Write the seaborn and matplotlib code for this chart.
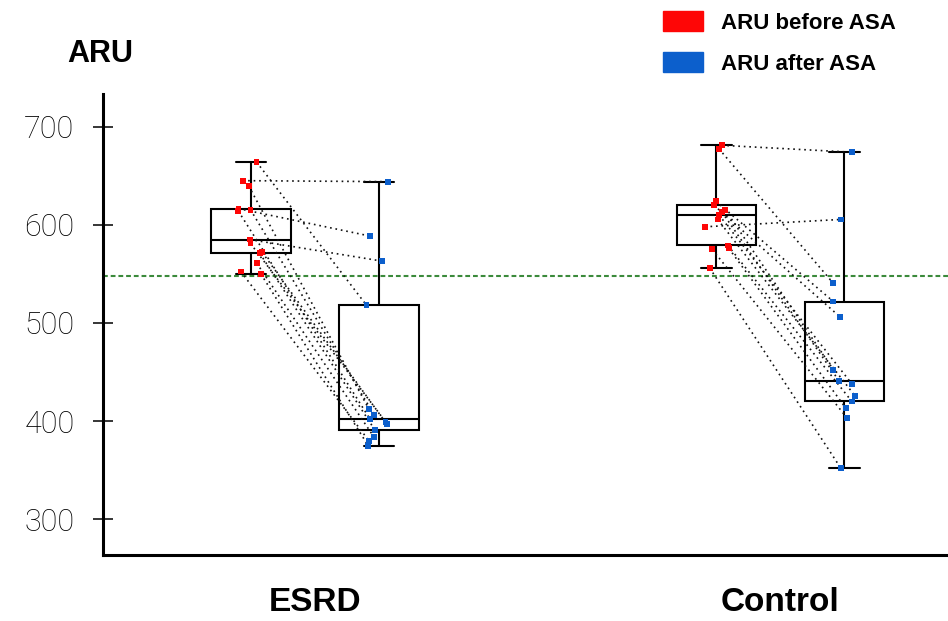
import numpy as np
import pandas as pd
import seaborn as sns
import matplotlib.pyplot as plt
from matplotlib.patches import Patch

# values (paired: before[i] -> after[i])
groups = ["ESRD", "Control"]
states = ["ARU before ASA", "ARU after ASA"]
esrd_before = [645, 616.5, 585, 664, 639.5, 615.5, 614, 581, 572, 571, 561, 552.5, 550]
esrd_after = [644, 588.5, 563, 518, 412, 406.5, 402, 399.5, 396.7, 391, 383.5, 380, 375]
control_before = [681, 677.5, 598, 624, 620, 615.3, 613, 610, 605.5, 579, 576, 575, 556]
control_after = [674, 540.5, 605.5, 521.8, 506.4, 452.4, 441, 438, 426, 420, 413, 402.8, 352]
threshold = 548
yticks = [300, 400, 500, 600, 700]

red = "#fe0606"
blue = "#0c5fcc"
dot_colors = {states[0]: red, states[1]: blue}
box_colors = {states[0]: "white", states[1]: "white"}

# long table; box position = group index +/- dodge offset
offset = 0.55 / 4
rows = []
for gi, (bef, aft) in enumerate([(esrd_before, esrd_after), (control_before, control_after)]):
    for b, a in zip(bef, aft):
        rows.append((groups[gi], states[0], gi - offset, b))
        rows.append((groups[gi], states[1], gi + offset, a))
df = pd.DataFrame(rows, columns=["group", "state", "pos", "aru"])
box_pos = np.array(sorted(df["pos"].unique()))

sns.set_theme(style="ticks")
plt.rcParams["font.family"] = ["Liberation Sans", "DejaVu Sans"]
plt.rcParams["text.color"] = "black"
plt.rcParams["xtick.color"] = "black"
plt.rcParams["ytick.color"] = "black"

fig = plt.figure(figsize=(9.48, 6.21), dpi=100)
ax = fig.add_axes([103 / 948, 66 / 621, 845 / 948, 461 / 621])

ax.axhline(threshold, color="#3b8a3b", lw=1.5, ls=(0, (2.3, 1.4)), zorder=1)

sns.boxplot(data=df, x="pos", y="aru", hue="state", hue_order=states, palette=box_colors,
            native_scale=True, orient="x", width=0.62, whis=(0, 100), linecolor="black",
            linewidth=1.5, legend=False, capwidths=0.065, zorder=2, ax=ax)

np.random.seed(11)
n0 = len(ax.collections)
sns.stripplot(data=df, x="pos", y="aru", hue="state", hue_order=states, palette=dot_colors,
              native_scale=True, orient="x", jitter=0.1, marker="s", size=4.2, linewidth=0,
              legend=False, zorder=4, ax=ax)

# find where the strip plot put each point, then join the pairs
xy = {}
for coll in ax.collections[n0:]:
    for x, y in coll.get_offsets():
        k = int(np.argmin(np.abs(box_pos - x)))
        xy[(k, round(float(y), 2))] = float(x)

for gi, (bef, aft) in enumerate([(esrd_before, esrd_after), (control_before, control_after)]):
    for b, a in zip(bef, aft):
        xb = xy[(2 * gi, round(b, 2))]
        xa = xy[(2 * gi + 1, round(a, 2))]
        ax.plot([xb, xa], [b, a], ls=(0, (1, 2.3)), color="#111111", lw=1.2, zorder=3)

ax.set_xlim(-0.455, 1.36)
ax.set_ylim(263.6, 733.3)
ax.set_xticks([0, 1], groups)
ax.set_yticks(yticks)
ax.set_xlabel("")
ax.set_ylabel("")
sns.despine(ax=ax)
for side in ["left", "bottom"]:
    ax.spines[side].set_linewidth(2.2)
    ax.spines[side].set_color("black")

ax.tick_params(axis="x", length=0, pad=23)
ax.tick_params(axis="y", direction="inout", length=15, width=1.1, pad=13, color="black")
for lab in ax.get_xticklabels():
    lab.set_fontsize(24)
    lab.set_fontweight("bold")
    lab.set_color("black")
for lab in ax.get_yticklabels():
    lab.set_fontsize(22)
    lab.set_fontfamily(["Roboto", "DejaVu Sans"])
    lab.set_fontweight("light")
    lab.set_color("black")

fig.text(67 / 948, 1 - 62 / 621, "ARU", fontsize=22, fontweight="bold", va="baseline",
         color="black")

handles = [Patch(facecolor=red, edgecolor=red), Patch(facecolor=blue, edgecolor=blue)]
fig.legend(handles, states, loc="upper left", bbox_to_anchor=(663 / 948, 1 - 11 / 621),
           frameon=False, prop=dict(weight="bold", size=16), handlelength=1.8,
           handleheight=1.0, handletextpad=0.8, labelspacing=0.85, borderpad=0,
           borderaxespad=0, labelcolor="black")

fig.savefig("out.png", dpi=100)
